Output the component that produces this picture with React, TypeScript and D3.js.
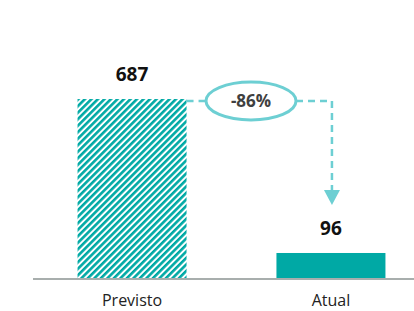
import React from "react";
import * as d3 from "d3";

const categories = ["Previsto", "Atual"];
const values = [687, 96];
const changeLabel = "-86%";

const W = 414;
const H = 311;
const baseY = 278;
const topY = 99;

const teal = "#00A9A5";
const lightTeal = "#6DCFD3";
const font = "'Open Sans', Lato, sans-serif";

const App = () => {
  const x = d3
    .scaleBand<string>()
    .domain(categories)
    .range([33, 430])
    .paddingInner(0.452)
    .paddingOuter(0.224);

  const y = d3.scaleLinear().domain([0, d3.max(values) as number]).range([baseY, topY]);

  const bw = x.bandwidth();
  const x0 = x(categories[0]) as number;
  const x1 = x(categories[1]) as number;

  // connector: dashed line from first bar top, through the badge, down to second bar
  const lineY = y(values[0]) + 2;
  const ellCx = 251;
  const ellRx = 45;
  const ellRy = 19;
  const arrowX = x1 + bw / 2 + 1;
  const arrowTip = y(values[1]) - 48;

  return (
    <svg width={W} height={H} style={{ position: "absolute", left: 0, top: 0 }}>
      <defs>
        <pattern
          id="hatch"
          patternUnits="userSpaceOnUse"
          width={4.6}
          height={4.6}
          patternTransform="rotate(45)"
        >
          <rect width={4.6} height={4.6} fill="#fff" />
          <rect width={2.6} height={4.6} fill={teal} />
        </pattern>
      </defs>

      <rect x={x0} y={y(values[0])} width={bw} height={baseY - y(values[0])} fill="url(#hatch)" />
      <rect x={x1} y={y(values[1])} width={bw} height={baseY - y(values[1])} fill={teal} />

      <line x1={33} x2={W} y1={baseY + 1} y2={baseY + 1} stroke="#A8AEAD" strokeWidth={2} />

      {values.map((v, i) => (
        <text
          key={categories[i]}
          x={(x(categories[i]) as number) + bw / 2}
          y={y(v) - 18}
          textAnchor="middle"
          fontFamily={font}
          fontWeight="bold"
          fontSize={19}
          fill="#111"
        >
          {v}
        </text>
      ))}

      {categories.map((c) => (
        <text
          key={c}
          x={(x(c) as number) + bw / 2}
          y={306}
          textAnchor="middle"
          fontFamily={font}
          fontSize={16}
          fill="#222"
        >
          {c}
        </text>
      ))}

      <g stroke={lightTeal} strokeWidth={2.5} fill="none" strokeDasharray="7,5">
        <line x1={x0 + bw} x2={ellCx - ellRx} y1={lineY} y2={lineY} />
        <polyline points={`${ellCx + ellRx},${lineY} ${arrowX},${lineY} ${arrowX},${arrowTip - 14}`} />
      </g>
      <path
        d={`M${arrowX - 8},${arrowTip - 15} L${arrowX + 8},${arrowTip - 15} L${arrowX},${arrowTip} Z`}
        fill={lightTeal}
      />
      <ellipse cx={ellCx} cy={lineY} rx={ellRx} ry={ellRy} fill="#fff" stroke={lightTeal} strokeWidth={3} />
      <text
        x={ellCx}
        y={lineY + 6}
        textAnchor="middle"
        fontFamily={font}
        fontWeight="bold"
        fontSize={17}
        fill="#404040"
      >
        {changeLabel}
      </text>
    </svg>
  );
};

export default App;
